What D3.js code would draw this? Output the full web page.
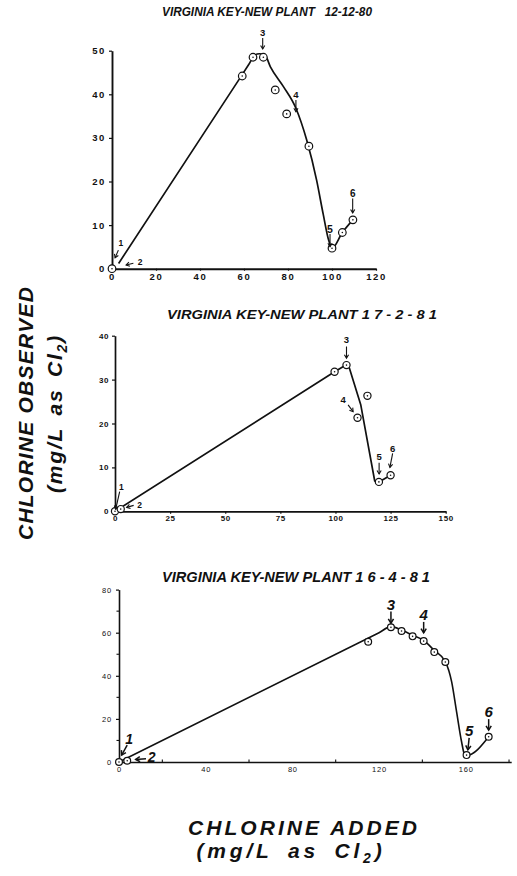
<!DOCTYPE html>
<html>
<head>
<meta charset="utf-8">
<script src="https://cdn.jsdelivr.net/npm/d3@7"></script>
<style>
  body { margin: 0; background: #fff; }
  svg { display: block; }
</style>
</head>
<body>
<div id="chart"></div>
<script>
// ---- panel 1 : 12-12-80 ----
const p1X = [0, 59.2, 64.1, 68.8, 74.2, 79.4, 89.5, 100, 104.7, 109.5];
const p1Y = [0, 44.2, 48.5, 48.5, 41, 35.5, 28.1, 4.7, 8.3, 11.2];
const p1LineX = [3, 58, 62, 65, 67, 69.5, 72, 78, 83.6, 88.5, 93, 96, 98.5, 100, 104.7, 109.5];
const p1LineY = [1.2, 43.6, 46.7, 49, 49.3, 49, 46.3, 41.7, 36.8, 29.5, 20.3, 12.5, 6.5, 4.7, 8.3, 11.2];
const p1XTicks = [0, 20, 40, 60, 80, 100, 120];
const p1YTicks = [0, 10, 20, 30, 40, 50];
const p1Labels = ["1", "2", "3", "4", "5", "6"];
const p1LabelX = [1.4, 6.4, 68.5, 83.6, 99.1, 109.4];
const p1LabelY = [2.5, 0.85, 50.4, 36, 5.05, 12.8];

// ---- panel 2 : 17-2-81 ----
const p2X = [0, 2.6, 99.6, 105, 110, 114.5, 119.7, 125];
const p2Y = [0, 0.5, 31.8, 33.3, 21.3, 26.3, 6.7, 8.2];
const p2LineX = [0, 99.6, 105.7, 111.5, 117.8, 119.7, 125];
const p2LineY = [0, 31.8, 33.6, 24.2, 6.9, 6.7, 8.2];
const p2XTicks = [0, 25, 50, 75, 100, 125, 150];
const p2YTicks = [0, 10, 20, 30, 40];
const p2Labels = ["1", "2", "3", "4", "5", "6"];
const p2LabelX = [0.3, 5.3, 105, 108, 119.8, 124.7];
const p2LabelY = [0.45, 0.9, 34.9, 22.7, 8.5, 10.0];

// ---- panel 3 : 16-4-81 ----
const p3X = [0, 3.8, 115, 125.5, 130.4, 135.5, 140.6, 145.5, 150.6, 160.4, 170.6];
const p3Y = [0, 0.6, 55.8, 62.5, 60.8, 58.3, 56.1, 51, 46.4, 3.2, 11.7];
const p3LineX = [0, 120, 125.5, 130.4, 135.5, 140.6, 145.5, 150.6, 153.5, 155.8, 158.1, 159.5, 160.4, 170.6];
const p3LineY = [0, 60, 62.8, 61.2, 58.8, 56.4, 51.8, 46.6, 37.3, 23.3, 9.4, 3.4, 3.0, 11.7];
const p3XTicks = [0, 40, 80, 120, 160];
const p3XMinor = [20, 60, 100, 140, 180];
const p3YTicks = [0, 20, 40, 60, 80];
const p3YMinor = [10, 30, 50, 70];
const p3Labels = ["1", "2", "3", "4", "5", "6"];
const p3LabelX = [1.2, 7.7, 125.5, 140.6, 161, 170.6];
const p3LabelY = [3.2, 1.2, 64.4, 59.9, 5.6, 14.8];

const ink = "#111";
const W = 517, H = 876;

const svg = d3.select("#chart").append("svg")
  .attr("width", W)
  .attr("height", H);
svg.append("rect").attr("width", W).attr("height", H).attr("fill", "#fff");

// arrow offsets (pixels): tail relative to tip, label relative to tip
const arrowsSmall = [
  { tail: [3.3, -7.7], lab: [5.7, -12], size: 8.5 },
  { tail: [7.3, -1.7], lab: [14, 0.5], size: 8.5 },
  { tail: [0, -11], lab: [0, -13], size: 9.5 },
  { tail: [0, -11.7], lab: [0, -13.5], size: 9.5 },
  { tail: [0, -12.7], lab: [0, -13.5], size: 10.5 },
  { tail: [0, -14.4], lab: [0, -15.5], size: 10 }
];
const arrows2 = [
  { tail: [4, -17.6], lab: [5.6, -19.5], size: 8.5 },
  { tail: [7, -2], lab: [13, 0.8], size: 8.5 },
  { tail: [0, -11.6], lab: [0, -15], size: 9.5 },
  { tail: [-5, -6.7], lab: [-10, -8.5], size: 9.5 },
  { tail: [0, -11.3], lab: [0, -13.5], size: 9.5 },
  { tail: [2.7, -14], lab: [2.7, -15.5], size: 9.5 }
];
const arrows3 = [
  { tail: [5.6, -10], lab: [7.5, -11], size: 14 },
  { tail: [10.3, -0.6], lab: [16, 2.5], size: 14 },
  { tail: [0, -11.6], lab: [0, -13.5], size: 15 },
  { tail: [0, -11], lab: [0, -12.5], size: 15 },
  { tail: [1.3, -12], lab: [1.3, -13.5], size: 15 },
  { tail: [0, -11], lab: [0, -13], size: 15 }
];

function drawPanel(cfg) {
  const x = d3.scaleLinear().domain(cfg.xDomain).range(cfg.xRange);
  const y = d3.scaleLinear().domain(cfg.yDomain).range(cfg.yRange);
  const g = svg.append("g");

  // title
  g.append("text")
    .attr("x", cfg.title.x)
    .attr("y", cfg.title.y)
    .attr("textLength", cfg.title.len)
    .attr("lengthAdjust", "spacingAndGlyphs")
    .style("white-space", "pre")
    .style("font-family", "'Liberation Sans', Arial, sans-serif")
    .style("font-weight", "bold")
    .style("font-style", "italic")
    .style("font-size", cfg.title.size + "px")
    .attr("fill", ink)
    .text(cfg.title.text);

  // axes
  const xAxis = d3.axisBottom(x)
    .tickValues(cfg.xTicks)
    .tickSize(cfg.xTickSize)
    .tickSizeOuter(0)
    .tickPadding(cfg.xPad)
    .tickFormat(d3.format("d"));
  const yAxis = d3.axisLeft(y)
    .tickValues(cfg.yTicks)
    .tickSize(cfg.yTickSize)
    .tickSizeOuter(0)
    .tickPadding(cfg.yPad)
    .tickFormat(d3.format("d"));

  const gx = g.append("g")
    .attr("transform", "translate(0," + y(0) + ")")
    .call(xAxis);
  const gy = g.append("g")
    .attr("transform", "translate(" + x(0) + ",0)")
    .call(yAxis);

  [gx, gy].forEach(a => {
    a.select(".domain").attr("stroke", ink).attr("stroke-width", cfg.axisW);
    a.selectAll(".tick line").attr("stroke", ink).attr("stroke-width", 1.2);
    a.selectAll(".tick text")
      .attr("fill", ink)
      .style("font-family", "'Liberation Sans', Arial, sans-serif")
      .style("font-weight", cfg.tickWeight)
      .style("font-size", cfg.tickSize + "px")
      .style("letter-spacing", cfg.tickSpacing + "px");
  });

  if (cfg.xMinor) {
    g.selectAll(".xminor").data(cfg.xMinor).join("line")
      .attr("x1", d => x(d)).attr("x2", d => x(d))
      .attr("y1", y(0)).attr("y2", y(0) - 2.5)
      .attr("stroke", ink).attr("stroke-width", 1.1);
    g.selectAll(".yminor").data(cfg.yMinor).join("line")
      .attr("x1", x(0)).attr("x2", x(0) - 2.5)
      .attr("y1", d => y(d)).attr("y2", d => y(d))
      .attr("stroke", ink).attr("stroke-width", 1.1);
  }

  // fitted curve
  const line = d3.line()
    .x(d => x(d[0]))
    .y(d => y(d[1]))
    .curve(cfg.curve);
  g.append("path")
    .datum(d3.zip(cfg.lineX, cfg.lineY))
    .attr("d", line)
    .attr("fill", "none")
    .attr("stroke", ink)
    .attr("stroke-width", cfg.lineW)
    .attr("stroke-linejoin", "round");

  // measured points
  const pts = d3.zip(cfg.px, cfg.py);
  g.selectAll(".pt").data(pts).join("circle")
    .attr("cx", d => x(d[0]))
    .attr("cy", d => y(d[1]))
    .attr("r", cfg.r)
    .attr("fill", "#fff")
    .attr("stroke", ink)
    .attr("stroke-width", 1.2);
  g.selectAll(".dot").data(pts).join("circle")
    .attr("cx", d => x(d[0]))
    .attr("cy", d => y(d[1]))
    .attr("r", 0.8)
    .attr("fill", ink);

  // numbered arrows
  cfg.labels.forEach((t, i) => {
    const a = cfg.arrows[i];
    const tx = x(cfg.labX[i]), ty = y(cfg.labY[i]);
    const sx = tx + a.tail[0], sy = ty + a.tail[1];
    const ang = Math.atan2(ty - sy, tx - sx);
    const hl = cfg.head;
    g.append("line")
      .attr("x1", sx).attr("y1", sy).attr("x2", tx).attr("y2", ty)
      .attr("stroke", ink).attr("stroke-width", cfg.arrowW);
    g.append("path")
      .attr("d", "M" + (tx - hl * Math.cos(ang - 0.55)) + "," + (ty - hl * Math.sin(ang - 0.55)) +
        "L" + tx + "," + ty +
        "L" + (tx - hl * Math.cos(ang + 0.55)) + "," + (ty - hl * Math.sin(ang + 0.55)))
      .attr("fill", "none")
      .attr("stroke", ink)
      .attr("stroke-width", cfg.arrowW)
      .attr("stroke-linejoin", "miter");
    g.append("text")
      .attr("x", tx + a.lab[0])
      .attr("y", ty + a.lab[1])
      .attr("text-anchor", "middle")
      .style("font-family", "'Liberation Sans', Arial, sans-serif")
      .style("font-weight", "bold")
      .style("font-style", cfg.labStyle)
      .style("font-size", a.size + "px")
      .attr("fill", ink)
      .text(t);
  });
}

drawPanel({
  title: { text: "VIRGINIA KEY-NEW PLANT   12-12-80", x: 162, y: 16, len: 210, size: 12 },
  xDomain: [0, 120], xRange: [112, 376],
  yDomain: [0, 50], yRange: [268.7, 50.7],
  xTicks: p1XTicks, yTicks: p1YTicks,
  xTickSize: 2, yTickSize: 3, xPad: 3, yPad: 3,
  tickSize: 9.5, tickWeight: "bold", tickSpacing: 1.6,
  axisW: 1.9, lineW: 1.7, r: 3.8, head: 4, arrowW: 1.1,
  curve: d3.curveMonotoneX,
  lineX: p1LineX, lineY: p1LineY, px: p1X, py: p1Y,
  labels: p1Labels, labX: p1LabelX, labY: p1LabelY,
  arrows: arrowsSmall, labStyle: "normal"
});

drawPanel({
  title: { text: "VIRGINIA KEY-NEW PLANT 1 7 - 2 - 8 1", x: 167, y: 319, len: 270, size: 13 },
  xDomain: [0, 150], xRange: [115, 445.7],
  yDomain: [0, 40], yRange: [511.3, 335.7],
  xTicks: p2XTicks, yTicks: p2YTicks,
  xTickSize: 2.5, yTickSize: 3, xPad: 2, yPad: 3,
  tickSize: 8, tickWeight: "bold", tickSpacing: 0.6,
  axisW: 1.7, lineW: 1.7, r: 3.6, head: 4, arrowW: 1.1,
  curve: d3.curveLinear,
  lineX: p2LineX, lineY: p2LineY, px: p2X, py: p2Y,
  labels: p2Labels, labX: p2LabelX, labY: p2LabelY,
  arrows: arrows2, labStyle: "normal"
});

drawPanel({
  title: { text: "VIRGINIA KEY-NEW PLANT 1 6 - 4 - 8 1", x: 162, y: 582, len: 268, size: 14.5 },
  xDomain: [0, 181], xRange: [119, 511.2],
  yDomain: [0, 80], yRange: [762, 589.6],
  xTicks: p3XTicks, yTicks: p3YTicks, xMinor: p3XMinor, yMinor: p3YMinor,
  xTickSize: 0, yTickSize: 3, xPad: 5, yPad: 4,
  tickSize: 7.5, tickWeight: "normal", tickSpacing: 0.8,
  axisW: 1.6, lineW: 1.6, r: 3.4, head: 5, arrowW: 1.5,
  curve: d3.curveMonotoneX,
  lineX: p3LineX, lineY: p3LineY, px: p3X, py: p3Y,
  labels: p3Labels, labX: p3LabelX, labY: p3LabelY,
  arrows: arrows3, labStyle: "italic"
});

// big axis titles
const bigFont = "'Liberation Sans', Arial, sans-serif";
function bigText(sel) {
  return sel.style("font-family", bigFont)
    .style("font-weight", "bold")
    .style("font-style", "italic")
    .style("font-size", "21px")
    .attr("fill", ink)
    .attr("text-anchor", "middle");
}

const vy = svg.append("g").attr("transform", "translate(33,413.5) rotate(-90)");
bigText(vy.append("text"))
  .attr("textLength", 253).attr("lengthAdjust", "spacing")
  .text("CHLORINE OBSERVED");
const vy2 = svg.append("g").attr("transform", "translate(62,413.5) rotate(-90)");
const t2 = bigText(vy2.append("text")).style("letter-spacing", "1.8px").style("word-spacing", "4px");
t2.append("tspan").text("(mg/L as Cl");
t2.append("tspan").attr("dy", 5).style("font-size", "14px").text("2");
t2.append("tspan").attr("dy", -5).text(")");

bigText(svg.append("text"))
  .attr("x", 302.5).attr("y", 835)
  .attr("textLength", 229).attr("lengthAdjust", "spacing")
  .text("CHLORINE ADDED");
const b2 = bigText(svg.append("text"))
  .attr("x", 291).attr("y", 858)
  .style("letter-spacing", "3.8px").style("word-spacing", "6px");
b2.append("tspan").text("(mg/L as Cl");
b2.append("tspan").attr("dy", 5).style("font-size", "14px").text("2");
b2.append("tspan").attr("dy", -5).text(")");
</script>
</body>
</html>
